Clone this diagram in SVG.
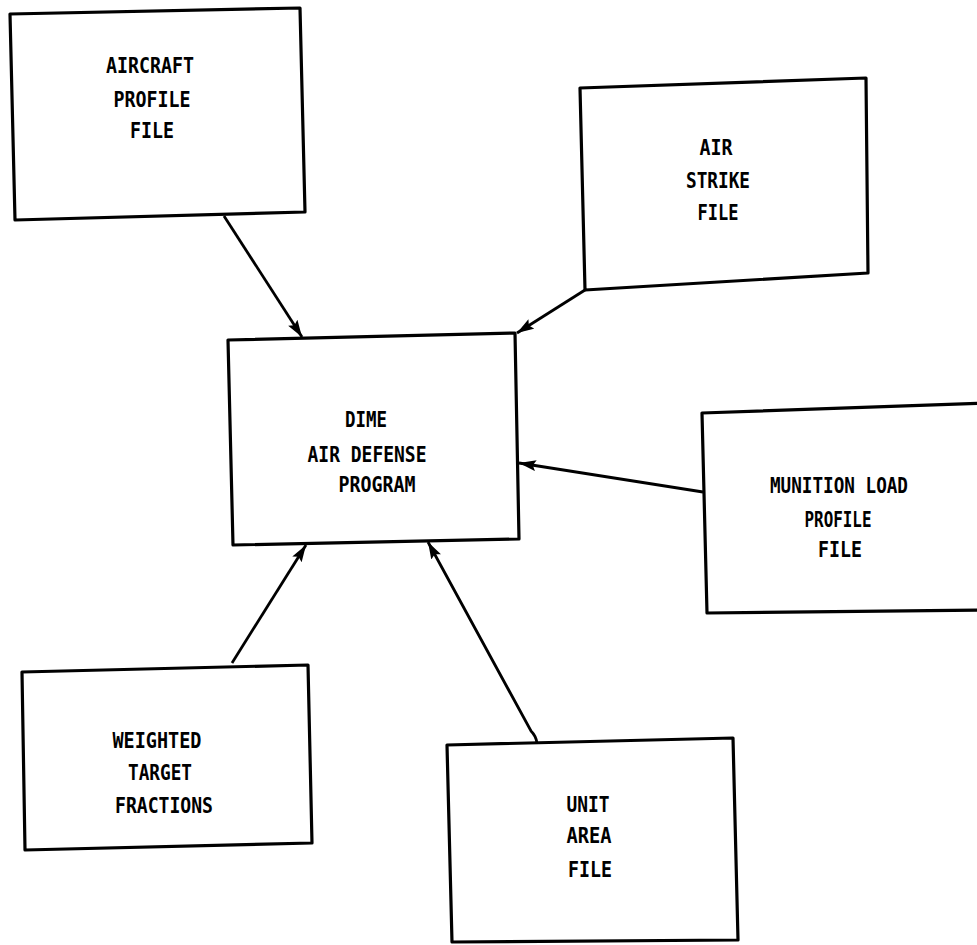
<svg xmlns="http://www.w3.org/2000/svg" width="977" height="945" viewBox="0 0 977 945">
  <style>
    .box { fill: #fff; stroke: #000; stroke-width: 3.2; stroke-linejoin: round; }
    .open { fill: none; stroke: #000; stroke-width: 3.2; stroke-linejoin: round; }
    .lbl { font-family: "DejaVu Sans Mono", "Liberation Mono", monospace; font-weight: bold; font-size: 21px; fill: #000; text-anchor: middle; }
    .link { stroke: #000; stroke-width: 2.8; fill: none; marker-end: url(#head); }
  </style>
  <defs>
    <marker id="head" markerUnits="userSpaceOnUse" markerWidth="18" markerHeight="12" refX="17" refY="5.5" orient="auto">
      <path d="M0,0 L17,5.5 L0,11 L3,5.5 z" fill="#000"/>
    </marker>
  </defs>
  <rect width="977" height="945" fill="#fff"/>

  <g id="connectors">
    <line class="link" x1="224" y1="216" x2="302" y2="337"/>
    <line class="link" x1="585" y1="290" x2="517" y2="333"/>
    <line class="link" x1="703" y1="492" x2="519" y2="463"/>
    <line class="link" x1="232" y1="663" x2="306" y2="545"/>
    <path class="link" d="M537,743 Q536,736 531,731 L428,542"/>
  </g>

  <g id="aircraft-profile-file">
    <polygon class="box" points="10,14 300,8 305,212 15,220"/>
    <text class="lbl" x="150" y="73" textLength="88" lengthAdjust="spacingAndGlyphs">AIRCRAFT</text>
    <text class="lbl" x="152" y="107" textLength="77" lengthAdjust="spacingAndGlyphs">PROFILE</text>
    <text class="lbl" x="152" y="138" textLength="44" lengthAdjust="spacingAndGlyphs">FILE</text>
  </g>

  <g id="air-strike-file">
    <polygon class="box" points="580,88 866,78 868,273 585,290"/>
    <text class="lbl" x="716" y="155" textLength="33" lengthAdjust="spacingAndGlyphs">AIR</text>
    <text class="lbl" x="718" y="188" textLength="64" lengthAdjust="spacingAndGlyphs">STRIKE</text>
    <text class="lbl" x="718" y="220" textLength="41" lengthAdjust="spacingAndGlyphs">FILE</text>
  </g>

  <g id="dime-air-defense-program">
    <polygon class="box" points="228,340 515,333 519,539 233,545"/>
    <text class="lbl" x="366" y="427" textLength="42" lengthAdjust="spacingAndGlyphs">DIME</text>
    <text class="lbl" x="367" y="462" textLength="119" lengthAdjust="spacingAndGlyphs">AIR DEFENSE</text>
    <text class="lbl" x="377" y="492" textLength="77" lengthAdjust="spacingAndGlyphs">PROGRAM</text>
  </g>

  <g id="munition-load-profile-file">
    <polyline class="open" points="985,403 702,413 707,613 985,610"/>
    <text class="lbl" x="839" y="493" textLength="138" lengthAdjust="spacingAndGlyphs">MUNITION LOAD</text>
    <text class="lbl" x="838" y="527" textLength="67" lengthAdjust="spacingAndGlyphs">PROFILE</text>
    <text class="lbl" x="840" y="557" textLength="44" lengthAdjust="spacingAndGlyphs">FILE</text>
  </g>

  <g id="weighted-target-fractions">
    <polygon class="box" points="22,672 308,665 312,843 25,850"/>
    <text class="lbl" x="157" y="748" textLength="89" lengthAdjust="spacingAndGlyphs">WEIGHTED</text>
    <text class="lbl" x="160" y="780" textLength="64" lengthAdjust="spacingAndGlyphs">TARGET</text>
    <text class="lbl" x="164" y="813" textLength="98" lengthAdjust="spacingAndGlyphs">FRACTIONS</text>
  </g>

  <g id="unit-area-file">
    <polygon class="box" points="447,745 733,738 738,940 452,942"/>
    <text class="lbl" x="588" y="812" textLength="43" lengthAdjust="spacingAndGlyphs">UNIT</text>
    <text class="lbl" x="589" y="843" textLength="45" lengthAdjust="spacingAndGlyphs">AREA</text>
    <text class="lbl" x="590" y="877" textLength="44" lengthAdjust="spacingAndGlyphs">FILE</text>
  </g>
</svg>
